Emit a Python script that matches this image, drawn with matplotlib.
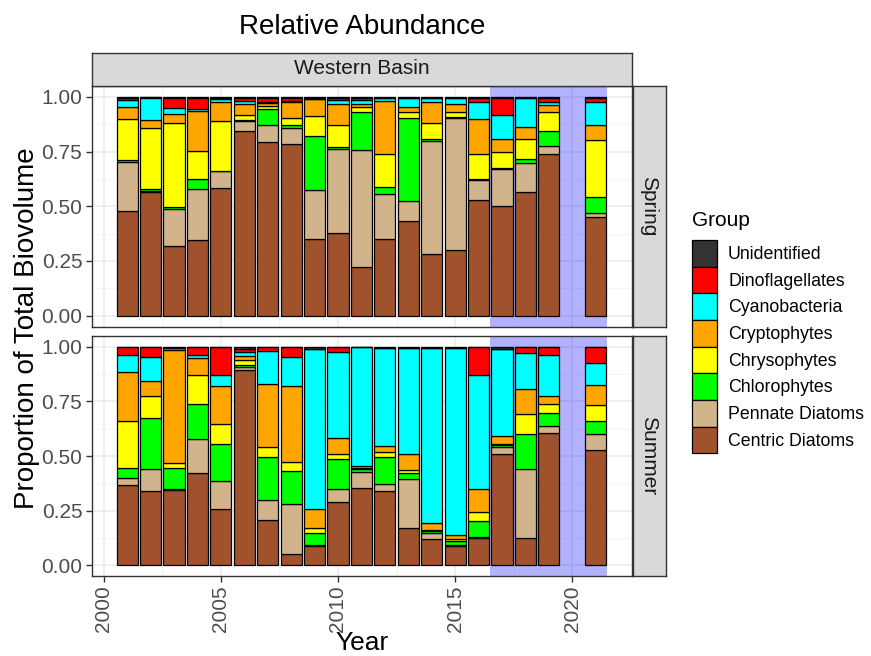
import matplotlib.pyplot as plt
from matplotlib.patches import Patch, Rectangle

plt.rcParams["font.family"] = ["Liberation Sans", "DejaVu Sans"]

years = [2001, 2002, 2003, 2004, 2005, 2006, 2007, 2008, 2009, 2010,
         2011, 2012, 2013, 2014, 2015, 2016, 2017, 2018, 2019, 2021]

groups = ["Centric Diatoms", "Pennate Diatoms", "Chlorophytes", "Chrysophytes",
          "Cryptophytes", "Cyanobacteria", "Dinoflagellates", "Unidentified"]
colors = ["#A0522D", "#D2B48C", "#00FF00", "#FFFF00",
          "#FFA500", "#00FFFF", "#FF0000", "#333333"]

# spring proportions
spring_centric = [0.476, 0.565, 0.316, 0.347, 0.583, 0.843, 0.794, 0.785, 0.351, 0.379,
                  0.221, 0.348, 0.432, 0.282, 0.302, 0.530, 0.499, 0.565, 0.740, 0.450]
spring_pennate = [0.226, 0.006, 0.170, 0.232, 0.077, 0.046, 0.079, 0.073, 0.225, 0.384,
                  0.538, 0.206, 0.092, 0.518, 0.603, 0.091, 0.173, 0.134, 0.034, 0.020]
spring_chloro = [0.009, 0.006, 0.010, 0.044, 0.003, 0.007, 0.071, 0.015, 0.244, 0.006,
                 0.172, 0.032, 0.380, 0.007, 0.003, 0.002, 0.002, 0.016, 0.070, 0.072]
spring_chryso = [0.189, 0.281, 0.383, 0.130, 0.229, 0.020, 0.015, 0.031, 0.091, 0.104,
                 0.023, 0.151, 0.027, 0.074, 0.023, 0.117, 0.074, 0.091, 0.087, 0.260]
spring_crypto = [0.054, 0.037, 0.042, 0.183, 0.085, 0.050, 0.013, 0.073, 0.078, 0.096,
                 0.015, 0.243, 0.023, 0.096, 0.038, 0.161, 0.061, 0.057, 0.031, 0.071]
spring_cyano = [0.034, 0.102, 0.029, 0.011, 0.012, 0.014, 0.003, 0.005, 0.002, 0.016,
                0.016, 0.015, 0.043, 0.018, 0.028, 0.076, 0.107, 0.134, 0.015, 0.104]
spring_dino = [0.007, 0.002, 0.047, 0.050, 0.006, 0.017, 0.022, 0.013, 0.002, 0.010,
               0.012, 0.000, 0.000, 0.000, 0.000, 0.020, 0.081, 0.000, 0.020, 0.020]
spring_unid = [0.005, 0.001, 0.003, 0.003, 0.005, 0.003, 0.003, 0.005, 0.007, 0.005,
               0.003, 0.005, 0.003, 0.005, 0.003, 0.003, 0.003, 0.003, 0.003, 0.003]

# summer proportions
summer_centric = [0.366, 0.338, 0.345, 0.424, 0.256, 0.892, 0.206, 0.053, 0.088, 0.290,
                  0.352, 0.340, 0.172, 0.119, 0.088, 0.122, 0.508, 0.122, 0.604, 0.527]
summer_pennate = [0.035, 0.104, 0.005, 0.155, 0.128, 0.017, 0.093, 0.229, 0.003, 0.058,
                  0.075, 0.030, 0.221, 0.030, 0.004, 0.006, 0.033, 0.317, 0.033, 0.072]
summer_chloro = [0.046, 0.230, 0.097, 0.160, 0.172, 0.010, 0.198, 0.149, 0.055, 0.137,
                 0.015, 0.127, 0.031, 0.006, 0.019, 0.073, 0.008, 0.160, 0.061, 0.061]
summer_chryso = [0.213, 0.105, 0.023, 0.134, 0.089, 0.020, 0.044, 0.043, 0.026, 0.023,
                 0.004, 0.021, 0.010, 0.006, 0.008, 0.044, 0.008, 0.092, 0.041, 0.076]
summer_crypto = [0.226, 0.069, 0.518, 0.077, 0.175, 0.021, 0.287, 0.346, 0.084, 0.076,
                 0.006, 0.028, 0.074, 0.030, 0.021, 0.103, 0.034, 0.117, 0.035, 0.089]
summer_cyano = [0.079, 0.108, 0.007, 0.012, 0.049, 0.016, 0.155, 0.133, 0.736, 0.392,
                0.546, 0.449, 0.487, 0.804, 0.855, 0.522, 0.401, 0.165, 0.191, 0.102]
summer_dino = [0.033, 0.044, 0.000, 0.036, 0.129, 0.016, 0.015, 0.045, 0.000, 0.022,
               0.000, 0.000, 0.000, 0.000, 0.000, 0.128, 0.000, 0.025, 0.033, 0.071]
summer_unid = [0.002, 0.002, 0.005, 0.002, 0.002, 0.008, 0.002, 0.002, 0.008, 0.002,
               0.002, 0.005, 0.005, 0.005, 0.005, 0.002, 0.008, 0.002, 0.002, 0.002]

spring = [spring_centric, spring_pennate, spring_chloro, spring_chryso,
          spring_crypto, spring_cyano, spring_dino, spring_unid]
summer = [summer_centric, summer_pennate, summer_chloro, summer_chryso,
          summer_crypto, summer_cyano, summer_dino, summer_unid]

W, H = 871, 656
fig = plt.figure(figsize=(W / 100, H / 100), dpi=100)
fig.patch.set_facecolor("white")


def frac(x0, y0, x1, y1):
    # pixel box -> figure fraction rect
    return [x0 / W, 1 - y1 / H, (x1 - x0) / W, (y1 - y0) / H]


def strip_box(rect):
    a = fig.add_axes(rect)
    a.set_facecolor("#D9D9D9")
    a.set_xticks([])
    a.set_yticks([])
    for s in a.spines.values():
        s.set_color("#333333")
        s.set_linewidth(1.0)
    return a


PL, PR = 92, 632
panels = [("Spring", spring, 86, 326.5), ("Summer", summer, 336, 576)]
axes = []
for name, data, top, bot in panels:
    ax = fig.add_axes(frac(PL, top, PR, bot))
    ax.add_patch(Rectangle((2016.5, -1), 5, 3, facecolor="blue", alpha=0.3,
                           edgecolor="none", zorder=1))
    bottom = [0.0] * len(years)
    for vals, c in zip(data, colors):
        ax.bar(years, vals, width=0.9, bottom=bottom, color=c,
               edgecolor="black", linewidth=0.9, zorder=2)
        bottom = [b + v for b, v in zip(bottom, vals)]
    ax.set_xlim(1999.5, 2022.55)
    ax.set_ylim(-0.05, 1.05)
    ax.set_yticks([0, 0.25, 0.5, 0.75, 1.0])
    ax.set_yticklabels(["0.00", "0.25", "0.50", "0.75", "1.00"])
    ax.set_xticks([2000, 2005, 2010, 2015, 2020])
    ax.set_xticks([2002.5, 2007.5, 2012.5, 2017.5], minor=True)
    ax.set_yticks([0.125, 0.375, 0.625, 0.875], minor=True)
    ax.grid(True, which="major", color="#EBEBEB", linewidth=1.1, zorder=0)
    ax.grid(True, which="minor", color="#F2F2F2", linewidth=0.6, zorder=0)
    ax.set_axisbelow(True)
    for s in ax.spines.values():
        s.set_color("#333333")
        s.set_linewidth(1.0)
    ax.tick_params(which="major", length=4, color="#333333", labelsize=15,
                   labelcolor="#4D4D4D", width=1, pad=3)
    ax.tick_params(which="minor", length=0)
    sax = strip_box(frac(PR + 0.5, top, PR + 33.5, bot))
    sax.text(0.5, 0.5, name, rotation=-90, ha="center", va="center",
             fontsize=15, color="#1A1A1A", transform=sax.transAxes)
    axes.append(ax)

axes[0].tick_params(axis="x", labelbottom=False, length=0)
axes[1].tick_params(axis="x", labelrotation=90)

tax = strip_box(frac(PL, 52.5, PR, 85.5))
tax.text(0.5, 0.5, "Western Basin", ha="center", va="center", fontsize=15,
         color="#1A1A1A", transform=tax.transAxes)

fig.text((PL + PR) / 2 / W, 1 - 27 / H, "Relative Abundance", ha="center",
         va="center", fontsize=20)
fig.text((PL + PR) / 2 / W, 1 - 643 / H, "Year", ha="center", va="center",
         fontsize=19)
fig.text(27 / W, 1 - 328 / H, "Proportion of Total Biovolume", rotation=90,
         ha="center", va="center", fontsize=20)

# legend (title drawn separately to match the gap above the keys)
fig.text(692 / W, 1 - 220 / H, "Group", ha="left", va="center", fontsize=15)
handles = [Patch(facecolor=c, edgecolor="black", linewidth=0.9, label=g)
           for g, c in zip(groups, colors)][::-1]
leg = fig.legend(handles=handles, loc="upper left",
                 bbox_to_anchor=(692 / W, 1 - 240 / H), frameon=False,
                 fontsize=12.8, handlelength=1.406,
                 handleheight=1.93, labelspacing=0.0, handletextpad=0.62,
                 borderpad=0.0, borderaxespad=0)

fig.savefig("out.png", dpi=100)
